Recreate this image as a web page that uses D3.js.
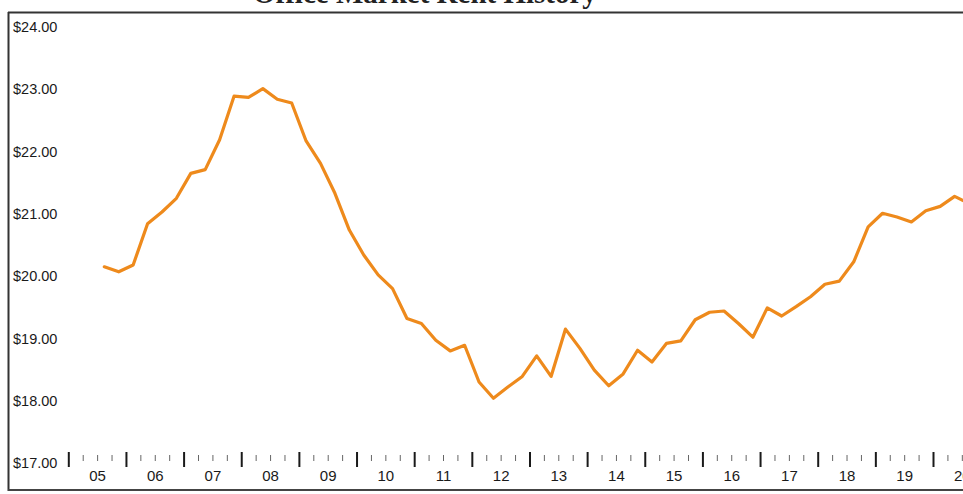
<!DOCTYPE html>
<html><head><meta charset="utf-8">
<script src="https://cdn.jsdelivr.net/npm/d3@7"></script>
<style>
html,body{margin:0;padding:0;background:#fff;}
svg{display:block;}
</style></head>
<body>
<svg id="chart" width="963" height="494"></svg>
<script>
// ---- data ----
const quarters = [
 "2005Q3","2005Q4",
 "2006Q1","2006Q2","2006Q3","2006Q4",
 "2007Q1","2007Q2","2007Q3","2007Q4",
 "2008Q1","2008Q2","2008Q3","2008Q4",
 "2009Q1","2009Q2","2009Q3","2009Q4",
 "2010Q1","2010Q2","2010Q3","2010Q4",
 "2011Q1","2011Q2","2011Q3","2011Q4",
 "2012Q1","2012Q2","2012Q3","2012Q4",
 "2013Q1","2013Q2","2013Q3","2013Q4",
 "2014Q1","2014Q2","2014Q3","2014Q4",
 "2015Q1","2015Q2","2015Q3","2015Q4",
 "2016Q1","2016Q2","2016Q3","2016Q4",
 "2017Q1","2017Q2","2017Q3","2017Q4",
 "2018Q1","2018Q2","2018Q3","2018Q4",
 "2019Q1","2019Q2","2019Q3","2019Q4",
 "2020Q1","2020Q2","2020Q3"
];
const rent = [
 20.15,20.07,
 20.18,20.84,21.03,21.25,
 21.65,21.71,22.19,22.89,
 22.87,23.01,22.84,22.78,
 22.17,21.81,21.33,20.74,
 20.34,20.02,19.80,19.32,
 19.24,18.97,18.80,18.89,
 18.30,18.04,18.22,18.39,
 18.72,18.39,19.15,18.84,
 18.49,18.24,18.43,18.81,
 18.62,18.92,18.96,19.30,
 19.42,19.44,19.24,19.02,
 19.49,19.36,19.51,19.67,
 19.87,19.92,20.23,20.79,
 21.01,20.95,20.87,21.05,
 21.12,21.28,21.17
];
const yTicks = [17,18,19,20,21,22,23,24];
const years = [2005,2006,2007,2008,2009,2010,2011,2012,2013,2014,2015,2016,2017,2018,2019,2020,2021];
const yearLabels = ["05","06","07","08","09","10","11","12","13","14","15","16","17","18","19","20"];
const title = "Office Market Rent History";

// ---- scales ----
const svg = d3.select("#chart");
const x = d3.scaleLinear().domain([2005, 2020]).range([68.3, 933]);
const y = d3.scaleLinear().domain([17, 24]).range([463, 27]);
const qPos = q => { const yr = +q.slice(0,4), n = +q.slice(5); return yr + (n - 1) / 4 + 0.125; };

// title (cropped at top of the page, as in the scan)
svg.append("text").attr("x", 253).attr("y", 2.5)
  .attr("font-family", "'Liberation Serif','DejaVu Serif',serif")
  .attr("font-weight", "bold").attr("font-size", 29).attr("fill", "#222")
  .text(title);

// frame
svg.append("line").attr("x1", 8.5).attr("x2", 8.5).attr("y1", 12).attr("y2", 491)
  .attr("stroke", "#333").attr("stroke-width", 2);
svg.append("line").attr("x1", 8).attr("x2", 963).attr("y1", 12.5).attr("y2", 12.5)
  .attr("stroke", "#333").attr("stroke-width", 2);
svg.append("line").attr("x1", 8).attr("x2", 963).attr("y1", 490).attr("y2", 490)
  .attr("stroke", "#444").attr("stroke-width", 2);

// y axis labels (inside plot)
const yAxis = svg.append("g").attr("transform", "translate(13,0)")
  .call(d3.axisRight(y).tickValues(yTicks).tickSize(0).tickPadding(0)
    .tickFormat(d => "$" + d3.format(".2f")(d)));
yAxis.select(".domain").remove();
yAxis.selectAll("text").attr("font-family", "'Liberation Sans',Arial,sans-serif")
  .attr("font-size", 14.5).attr("fill", "#1a1a1a");

// minor quarterly ticks
const minorVals = [];
years.forEach(yr => { [0.25, 0.5, 0.75].forEach(f => minorVals.push(yr + f)); });
const minorAx = svg.append("g").attr("transform", "translate(0,455)")
  .call(d3.axisBottom(x).tickValues(minorVals).tickSize(6).tickFormat(""));
minorAx.select(".domain").remove();
minorAx.selectAll("line").attr("stroke", "#666").attr("stroke-width", 1);

// major yearly ticks
const majorAx = svg.append("g").attr("transform", "translate(0,452)")
  .call(d3.axisBottom(x).tickValues(years).tickSize(15).tickFormat(""));
majorAx.select(".domain").remove();
majorAx.selectAll("line").attr("stroke", "#1a1a1a").attr("stroke-width", 2);

// year labels
const labAx = svg.append("g").attr("transform", "translate(0,468)")
  .call(d3.axisBottom(x).tickValues(yearLabels.map((d, i) => years[i] + 0.5))
    .tickSize(0).tickPadding(2).tickFormat((d, i) => yearLabels[i]));
labAx.select(".domain").remove();
labAx.selectAll("text").attr("font-family", "'Liberation Sans',Arial,sans-serif")
  .attr("font-size", 15).attr("fill", "#1a1a1a");

// line
const line = d3.line().x((d, i) => x(qPos(quarters[i]))).y(d => y(d));
svg.append("path").datum(rent).attr("d", line)
  .attr("fill", "none").attr("stroke", "#EE8A1C").attr("stroke-width", 3.2)
  .attr("stroke-linejoin", "round").attr("stroke-linecap", "round");
</script>
</body></html>
